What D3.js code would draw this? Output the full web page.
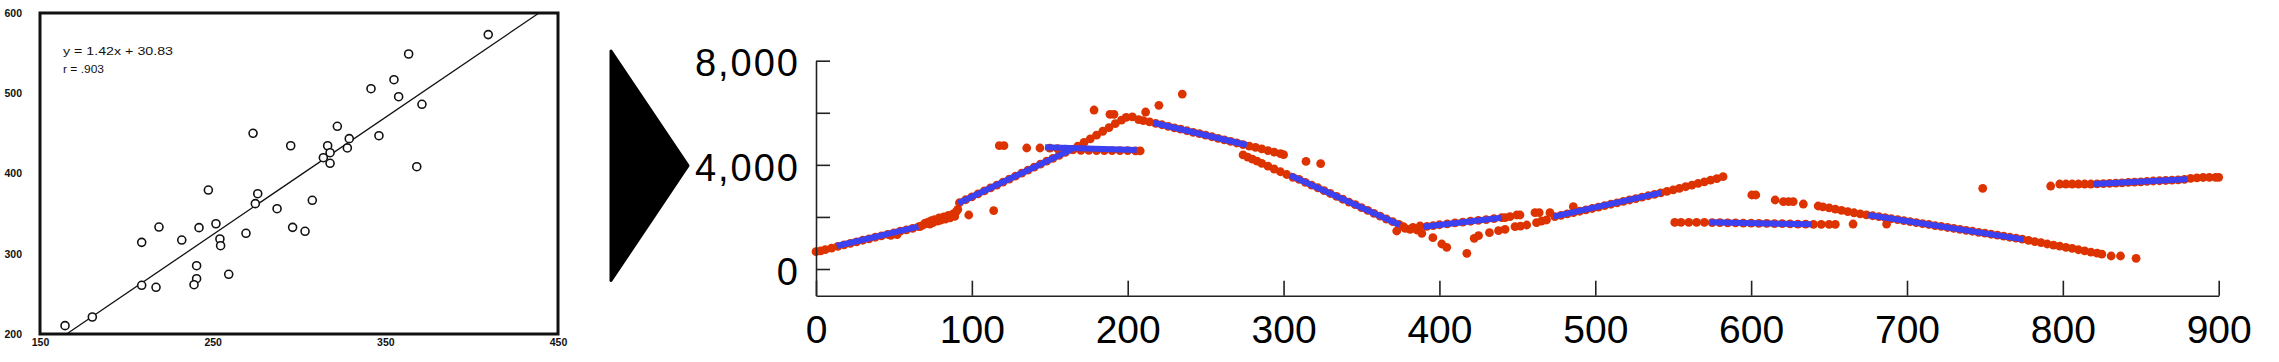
<!DOCTYPE html>
<html>
<head>
<meta charset="utf-8">
<script src="https://cdn.jsdelivr.net/npm/d3@7"></script>
<style>
body { margin: 0; background: #fff; }
svg { display: block; }
</style>
</head>
<body>
<div id="chart"></div>
<script>
"use strict"
// left panel: the scanned scatter plot
const scanX = [164.5,180.3,208.9,208.9,218.9,217.2,232.1,247.5,242.1,240.7,240.7,239.2,251.9,254.2,254.6,259.3,269.3,273.4,276.1,274.7,
               287.3,295.2,296.3,307.7,303.5,314.1,316.6,318,318,322.2,328,329.1,346.3,341.7,355,357.7,363.5,371.2,368.2,409.6];
const scanY = [210.4,221.2,314.2,260.7,333.3,258.2,317.1,379.4,332.5,285.1,268.9,261.4,337.4,318.4,310,274.4,325.5,450.1,374.8,362.4,
               356.1,434.6,332.9,366.6,328,419.7,434.6,425.9,412.7,458.8,431.8,443.4,447.1,505.7,516.9,495.7,548.9,486.2,408.5,573.1];
const scanFitX = [165.4, 439];
const scanFitY = [200, 600];
const scanXTicks = [150, 250, 350, 450];
const scanYTicks = [200, 300, 400, 500, 600];
const scanNotes = ["y = 1.42x + 30.83", "r = .903"];

// right panel: red points and blue fitted pieces
const xTicks = [0,100,200,300,400,500,600,700,800,900];
const yTicks = [0,2000,4000,6000,8000];
const yLabelled = [0,4000,8000];

const redA = [[0,665],[3,700],[6,745],[10,805],[14,870],[18,930],[22,985],[26,1045],[30,1105],[34,1160],[38,1220],[42,1275],
              [46,1330],[48,1290],[50,1390],[52,1320],[54,1450],[58,1505],[62,1560],[66,1625]];
const redB = [[67,1640],[69,1700],[70,1760],[72,1800],[73,1720],[74,1860],[75,1780],[76,1900],[78,1840],[79,1960],[80,1880],
              [82,2000],[83,1920],[85,2060],[86,1960],[88,2120],[89,2020],[90,2200],[91,2290],[98,2074],[114,2245]];
const redC = [[92,2545],[96,2660],[100,2770],[104,2885],[108,3000],[112,3115],[116,3225],[120,3340],[124,3455],[128,3570],
              [132,3680],[136,3795],[140,3910],[144,4025],[148,4140],[152,4250],[156,4365],[160,4480],[164,4590]];
const redD = [[168,4720],[172,4860],[176,5000],[180,5140],[184,5290],[188,5430],[192,5580],[196,5720],[199,5820],[203,5840],[207,5740]];
const redOut1 = [[117.6,4737],[120.6,4737],[135.2,4647],[143.7,4647],[178.4,6106],[188.6,5940],[191.2,5940],[211.5,6029],[220,6285],[235,6720]];
const redE = [[150,4640],[155,4620],[160,4600],[165,4580],[170,4560],[175,4560],[180,4550],[185,4550],[190,4550],[195,4550],
              [200,4550],[205,4540],[208,4540]];
const redF = [[210,5700],[214,5650],[218,5590],[222,5540],[226,5480],[230,5420],[234,5370],[238,5310],[242,5250],[246,5200],
              [250,5140],[254,5080],[258,5020],[262,4960],[266,4900],[270,4840],[274,4780]];
const redG = [[278,4720],[282,4670],[286,4610],[290,4550],[294,4490],[298,4430],[300,4390]];
const redH = [[274,4380],[277,4300],[280,4220],[283,4140],[286,4060],[290,3950],[294,3840],[298,3735],[302,3630],[306,3520]];
const redI = [[310,3440],[314,3330],[318,3220],[322,3120],[326,3010],[330,2900],[334,2790],[338,2680],[342,2570],[346,2470],
              [350,2360],[354,2250],[358,2140],[362,2030],[366,1920],[370,1820],[374,1710],[314.4,4130],[323.8,4045]];
const redJ = [[372.6,1460],[376.9,1626],[378,1560],[381.2,1523],[383,1600],[385.5,1498],[387.6,1651],[388.7,1370]];
const redK = [[392,1640],[396,1670],[400,1700],[405,1735],[410,1770],[415,1800],[420,1835],[425,1870],[430,1900],[435,1935],[440,1970]];
const redL = [[395.8,1203],[401.5,960],[404.7,833],[417.6,602],[422.3,1178],[425.1,1279],[432.1,1395],[437.9,1472],[442.1,1523],
              [448.5,1626],[452,1650],[456,1690],[462.3,1779],[465.5,1843],[468.7,1882]];
const redM = [[442.1,1971],[445.3,2009],[449.6,2074],[451.7,2074],[461.3,2163],[464,2163],[470.9,2163],[485.9,2393]];
const redN = [[474,2010],[478,2062],[482,2114],[486,2166],[490,2218],[494,2270],[498,2324],[502,2378],[506,2433],[510,2487],
              [514,2542],[518,2596],[522,2651],[526,2705],[530,2760],[534,2814],[538,2868],[542,2923],[546,2980],[550,3040],
              [554,3100],[558,3160],[562,3225],[566,3290],[570,3350],[574,3410],[578,3470],[582,3545]];
const redO = [[551,1790],[555,1790],[560,1790],[565,1790],[570,1790],[575,1785],[580,1780],[585,1775],[590,1770],[595,1765],
              [600,1760],[605,1755],[610,1750],[615,1745],[620,1740],[625,1730],[630,1725],[635,1720],[640,1715],[645,1715],
              [650,1715],[654,1715],[665.4,1728],[686.9,1728]];
const redP = [[600.4,2842],[603,2842],[615.4,2650],[620.7,2585],[624,2585],[627,2585],[633.5,2496],[748.6,3098]];
const redQ = [[643,2420],[646,2390],[650,2345],[654,2300],[658,2250],[662,2200],[666,2160],[670,2120],[674,2080],[678,2045],
              [682,2010],[686,1970],[690,1930],[694,1895],[698,1860],[702,1820],[706,1785],[710,1745],[714,1710],[718,1670],
              [722,1635],[726,1595],[730,1560],[734,1520],[738,1485],[742,1450],[746,1410],[750,1375],[754,1335],[758,1300],
              [762,1260],[766,1220],[770,1185],[774,1145],[778,1100],[782,1050],[786,1010],[790,960],[794,920],[798,880],
              [802,830],[806,790],[810,740],[814,700],[818,650],[822,610],[825,570],[831,500],[837,500],[847,410]];
const redR = [[792.2,3187],[798,3264],[802,3264],[806,3264],[810,3264],[814,3264],[818,3264],[822,3270],[826,3280],[830,3290],
              [834,3300],[838,3310],[842,3330],[846,3340],[850,3350],[854,3365],[858,3380],[862,3390],[866,3400],[870,3410],
              [874,3420],[878,3440],[882,3480],[886,3500],[890,3515],[894,3520],[898,3520],[900,3520]];

// blue pieces: [x0, y0, x1, y1]
const fitPieces = [[13.3,883,65.7,1625],[91.3,2523,164.1,4596],[147,4672,205.8,4570],[216.5,5618,276.4,4762],
                   [304.1,3600,374.7,1690],[389.7,1626,440,1971],[473.1,2010,542.6,2931],[573.6,1792,638.9,1715],
                   [675.2,2074,774.7,1139],[819.6,3264,879.9,3444]];

function drawScan(svg) {
    const lx = d3.scaleLinear().domain([150, 450]).range([40, 558]);
    const ly = d3.scaleLinear().domain([200, 600]).range([334, 13]);
    const g = svg.append("g").attr("id", "scan");

    g.append("rect")
        .attr("x", lx(150)).attr("y", ly(600))
        .attr("width", lx(450) - lx(150)).attr("height", ly(200) - ly(600))
        .attr("fill", "none").attr("stroke", "#111").attr("stroke-width", 3);

    const xa = g.append("g").attr("transform", "translate(0," + ly(200) + ")")
        .call(d3.axisBottom(lx).tickValues(scanXTicks).tickSize(0).tickPadding(5));
    const ya = g.append("g").attr("transform", "translate(" + lx(150) + ",0)")
        .call(d3.axisLeft(ly).tickValues(scanYTicks).tickSize(0).tickPadding(18));
    [xa, ya].forEach(function(a) {
        a.select(".domain").remove();
        a.attr("font-family", "'Liberation Sans', Arial, sans-serif")
         .attr("font-size", 10.5).attr("font-weight", "bold");
        a.selectAll("text").attr("fill", "#111");
    });

    g.append("path")
        .attr("d", d3.line().x(d => lx(d[0])).y(d => ly(d[1]))(d3.zip(scanFitX, scanFitY)))
        .attr("stroke", "#111").attr("stroke-width", 1.3).attr("fill", "none");

    g.selectAll(".pt")
        .data(d3.zip(scanX, scanY))
        .enter()
        .append("circle")
        .attr("cx", d => lx(d[0])).attr("cy", d => ly(d[1]))
        .attr("r", 4)
        .attr("fill", "#fff").attr("stroke", "#111").attr("stroke-width", 1.6);

    g.selectAll(".note")
        .data(scanNotes)
        .enter()
        .append("text")
        .attr("x", 63).attr("y", (d, i) => 55 + i * 18)
        .attr("textLength", (d, i) => i == 0 ? 110 : 41)
        .attr("lengthAdjust", "spacingAndGlyphs")
        .attr("font-family", "'Liberation Sans', Arial, sans-serif")
        .attr("font-size", 11.5).attr("fill", "#111")
        .text(d => d);
}

function drawArrow(svg) {
    svg.append("path")
        .attr("d", "M611,51 L688,165.7 L611,280.5 Z")
        .attr("fill", "#000").attr("stroke", "#000")
        .attr("stroke-width", 3).attr("stroke-linejoin", "round");
}

function drawChart(svg) {
    const x = d3.scaleLinear().domain([0, 900]).range([816, 2218.7]);
    const y = d3.scaleLinear().domain([-1025, 8000]).range([295.7, 60.7]);
    const font = "'Liberation Sans', Arial, Helvetica, sans-serif";

    const reds = [].concat(redA, redB, redC, redD, redOut1, redE, redF, redG, redH, redI,
                           redJ, redK, redL, redM, redN, redO, redP, redQ, redR);

    svg.append("g").attr("id", "red")
        .selectAll("circle")
        .data(reds)
        .enter()
        .append("circle")
        .attr("cx", d => x(d[0])).attr("cy", d => y(d[1]))
        .attr("r", 4.4)
        .attr("fill", "#dd3300");

    svg.append("g").attr("id", "blue")
        .selectAll("line")
        .data(fitPieces)
        .enter()
        .append("line")
        .attr("x1", d => x(d[0])).attr("y1", d => y(d[1]))
        .attr("x2", d => x(d[2])).attr("y2", d => y(d[3]))
        .attr("stroke", "#3b40f0").attr("stroke-width", 6);

    const yAxis = d3.axisLeft(y).tickValues(yTicks).tickSize(-14).tickSizeOuter(0).tickPadding(16)
        .tickFormat(d => yLabelled.includes(d) ? d3.format(",")(d) : "");
    const xAxis = d3.axisBottom(x).tickValues(xTicks).tickSize(-15).tickSizeOuter(0).tickPadding(19.5);

    const ya = svg.append("g").attr("transform", "translate(" + x(0) + ",0)").call(yAxis);
    const xa = svg.append("g").attr("transform", "translate(0," + y(-1025) + ")").call(xAxis);

    ya.attr("font-size", 38).attr("font-family", font);
    ya.selectAll("text").attr("dy", "0.4em").attr("fill", "#000").attr("letter-spacing", 2);
    xa.attr("font-size", 39).attr("font-family", font);
    xa.selectAll("text").attr("fill", "#000");
    [xa, ya].forEach(function(a) {
        a.selectAll("line, path").attr("stroke", "#222").attr("stroke-width", 1.6);
    });
}

function init() {
    const svg = d3.select("#chart").append("svg")
        .attr("width", 2279).attr("height", 362);
    svg.append("rect").attr("width", 2279).attr("height", 362).attr("fill", "#fff");
    drawScan(svg);
    drawArrow(svg);
    drawChart(svg);
}

window.onload = init;
</script>
</body>
</html>
